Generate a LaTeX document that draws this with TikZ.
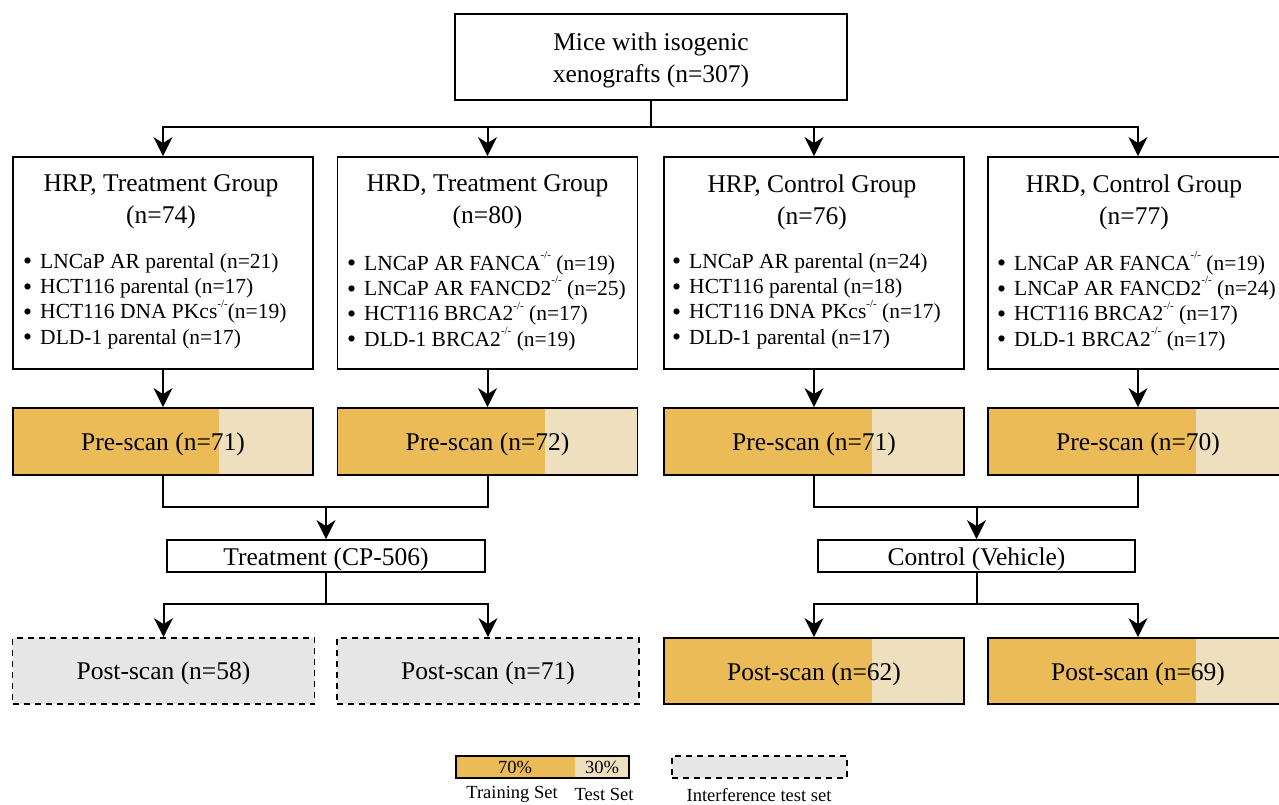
\documentclass[tikz,border=0pt]{standalone}
\usepackage{fontspec}
\setmainfont{Liberation Serif}
\usetikzlibrary{arrows.meta,calc}
\definecolor{trainc}{HTML}{EBBB58}
\definecolor{testc}{HTML}{EEE0BE}
\definecolor{grayc}{HTML}{E6E6E6}
\newcommand{\kosup}{\raisebox{0.55em}{\fontsize{11}{11}\selectfont -/-}}
\newcommand{\bul}{\raisebox{-1.6pt}{\scalebox{1.2}{\textbullet}}\hspace{8pt}}
\begin{document}
\begin{tikzpicture}[x=1pt,y=-1pt,
  box/.style={draw, line width=1.8pt, fill=white, inner sep=0pt},
  gbox/.style={box, minimum width=300pt, minimum height=212pt},
  title/.style={font=\fontsize{25.5}{32}\selectfont, align=center, inner sep=0pt},
  lst/.style={font=\fontsize{21.5}{25.3}\selectfont, align=left, anchor=west, inner sep=0pt},
  scanbox/.style={box, fill=testc, minimum width=300pt, minimum height=67pt,
    font=\fontsize{25.5}{30}\selectfont, text height=23pt, text depth=5pt,
    path picture={\fill[trainc] (path picture bounding box.north west) rectangle ([xshift=#1]path picture bounding box.south west);}},
  dbox/.style={box, fill=grayc, dashed, dash pattern=on 6pt off 5pt, minimum width=302pt, minimum height=66pt, font=\fontsize{25.5}{30}\selectfont, text height=21pt, text depth=5pt},
  mbox/.style={box, minimum height=32pt, font=\fontsize{25.5}{30}\selectfont, text height=23pt, text depth=5pt},
  arr/.style={line width=2pt, -{Stealth[length=19pt,width=19pt,inset=6pt]}},
  ln/.style={line width=2pt},
  leg/.style={font=\fontsize{18.5}{20}\selectfont, inner sep=0pt}
]
\useasboundingbox[fill=white] (0,0) rectangle (1279,804);

% top
\node[box, minimum width=392pt, minimum height=86pt] (top) at (651,57) {};
\node[title] (toptxt) at (651,60) {Mice with isogenic\\xenografts (n=307)};

% group boxes
\node[gbox] (g1) at (163,263) {};
\node[gbox] (g2) at (487.5,263) {};
\node[gbox] (g3) at (814,263) {};
\node[gbox] (g4) at (1138,263) {};

\node[title] (g1t) at (161,202) {HRP, Treatment Group\\(n=74)};
\node[title] (g2t) at (487.5,202) {HRD, Treatment Group\\(n=80)};
\node[title] (g3t) at (812,202) {HRP, Control Group\\(n=76)};
\node[title] (g4t) at (1134,202) {HRD, Control Group\\(n=77)};

\node[lst] (g1l) at (23,301) {\bul LNCaP AR parental (n=21)\\\bul HCT116 parental (n=17)\\\bul HCT116 DNA PKcs\kosup(n=19)\\\bul DLD-1 parental (n=17)};
\node[lst] (g2l) at (347,301) {\bul LNCaP AR FANCA\kosup{} (n=19)\\\bul LNCaP AR FANCD2\kosup{} (n=25)\\\bul HCT116 BRCA2\kosup{} (n=17)\\\bul DLD-1 BRCA2\kosup{} (n=19)};
\node[lst] (g3l) at (672,301) {\bul LNCaP AR parental (n=24)\\\bul HCT116 parental (n=18)\\\bul HCT116 DNA PKcs\kosup{} (n=17)\\\bul DLD-1 parental (n=17)};
\node[lst] (g4l) at (997,301) {\bul LNCaP AR FANCA\kosup{} (n=19)\\\bul LNCaP AR FANCD2\kosup{} (n=24)\\\bul HCT116 BRCA2\kosup{} (n=17)\\\bul DLD-1 BRCA2\kosup{} (n=17)};

% pre-scan
\node[scanbox=206pt] (p1) at (163,441.5) {Pre-scan (n=71)};
\node[scanbox=207pt] (p2) at (487.5,441.5) {Pre-scan (n=72)};
\node[scanbox=208pt] (p3) at (814,441.5) {Pre-scan (n=71)};
\node[scanbox=208pt] (p4) at (1138,441.5) {Pre-scan (n=70)};

% middle boxes
\node[mbox, minimum width=318pt] (treat) at (326,556) {Treatment (CP-506)};
\node[mbox, minimum width=317pt] (ctrl) at (976.5,556) {Control (Vehicle)};

% post-scan
\node[dbox] (q1) at (163.5,671) {Post-scan (n=58)};
\node[dbox] (q2) at (488,671) {Post-scan (n=71)};
\node[scanbox=208pt, minimum height=66pt] (q3) at (814,671) {Post-scan (n=62)};
\node[scanbox=208pt, minimum height=66pt] (q4) at (1138,671) {Post-scan (n=69)};

% connectors
\coordinate (j0) at (651,127);
\draw[ln] (top.south) -- (j0);
\draw[arr] (j0) -| (g1.north);
\draw[arr] (j0) -| (g2.north);
\draw[arr] (j0) -| (g3.north);
\draw[arr] (j0) -| (g4.north);

\draw[arr] (g1.south) -- (p1.north);
\draw[arr] (g2.south) -- (p2.north);
\draw[arr] (g3.south) -- (p3.north);
\draw[arr] (g4.south) -- (p4.north);

\coordinate (j1) at (326,507);
\coordinate (j3) at (976.5,507);
\draw[ln] (p1.south) |- (j1) -| (p2.south);
\draw[ln] (p3.south) |- (j3) -| (p4.south);
\draw[arr] (j1) -- (treat.north);
\draw[arr] (j3) -- (ctrl.north);

\coordinate (j2) at (326,604);
\coordinate (j4) at (976.5,604);
\draw[ln] (treat.south) -- (j2);
\draw[ln] (ctrl.south) -- (j4);
\draw[arr] (j2) -| (q1.north);
\draw[arr] (j2) -| (q2.north);
\draw[arr] (j4) -| (q3.north);
\draw[arr] (j4) -| (q4.north);

% legend
\node[box, fill=testc, minimum width=173pt, minimum height=22pt,
  path picture={\fill[trainc] (path picture bounding box.north west) rectangle ([xshift=119pt]path picture bounding box.south west);}] (lg1) at (542.5,767) {};
\node[leg] (lg1a) at (515,767) {70\%};
\node[leg] (lg1b) at (602,767) {30\%};
\node[box, fill=grayc, dashed, dash pattern=on 6pt off 5pt, minimum width=175pt, minimum height=22pt] (lg2) at (759.5,767) {};
\node[leg] (lgt1) at (512,794) {Training Set};
\node[leg] (lgt2) at (604,794) {Test Set};
\node[leg] (lgt3) at (759,795) {Interference test set};
\end{tikzpicture}
\end{document}
